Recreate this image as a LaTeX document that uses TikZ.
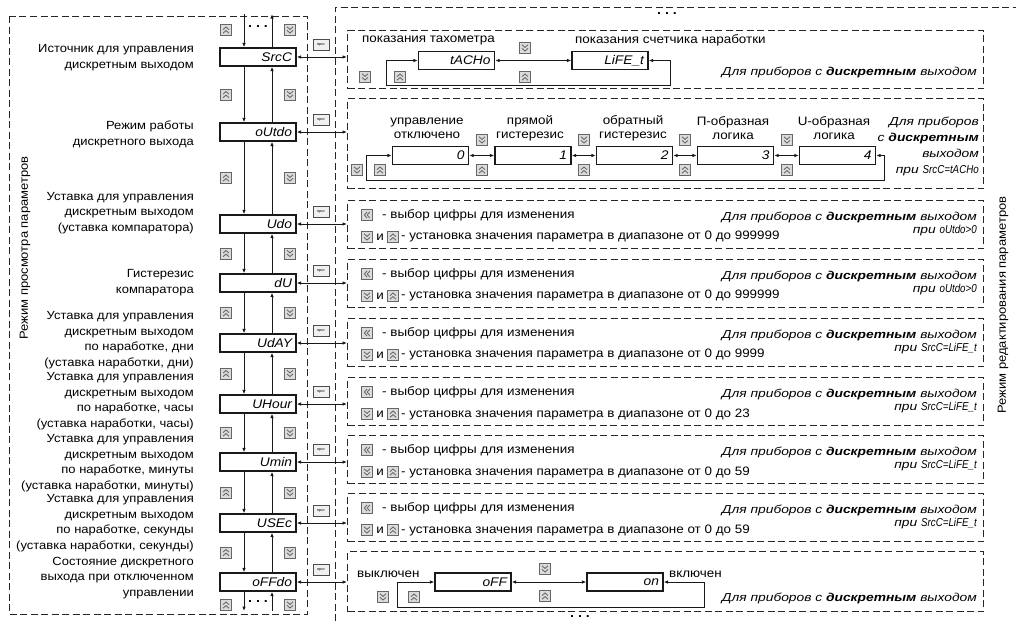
\documentclass[tikz,border=0pt]{standalone}
\usepackage{fontspec}
\setmainfont{Liberation Sans}[FakeStretch=1.1]
\newfontfamily\notefam{Liberation Sans}[FakeStretch=1.2]
\newfontfamily\segfam{Liberation Sans}[FakeStretch=0.85]
\usetikzlibrary{arrows.meta,calc}
\newcommand\labfont{\fontsize{11.8}{15.5}\selectfont}
\newcommand\txtfont{\fontsize{12.2}{14}\selectfont}
\newcommand\notefont{\notefam\itshape\fontsize{11.5}{16.3}\selectfont}
\newcommand\seg[1]{{\segfam\itshape #1}}
\newcommand\dispfont{\itshape\fontsize{12.5}{13}\selectfont}
\newcommand\progfont{\fontsize{3.6}{4}\selectfont}
\tikzset{
  dl/.style={dash pattern=on 7pt off 3.5pt, line width=1pt, draw=black!85},
  dbox/.style={dl, draw, anchor=north west, minimum width=636pt, inner sep=0pt},
  disp/.style={draw=black!90, line width=1.3pt, minimum height=18pt, text width=68pt, align=right,
    inner xsep=4pt, inner ysep=0pt, font=\dispfont},
  conn/.style={line width=0.9pt, draw=black!90, >={Latex[length=4.5pt,width=3.6pt]}},
  lab/.style={font=\labfont, align=right, anchor=east, inner sep=1pt},
  txt/.style={font=\txtfont, inner sep=1pt},
  note/.style={font=\notefont, align=right, anchor=east, inner sep=1pt},
  btn/.style={draw=black!60, fill=black!14, minimum width=11pt, minimum height=11pt, inner sep=0pt, line width=0.5pt},
  btnup/.style={btn, path picture={
    \draw[line width=0.85pt] ([shift={(-3pt,-3.2pt)}]path picture bounding box.center) -- ++(3pt,2.6pt) -- ++(3pt,-2.6pt);
    \draw[line width=0.85pt] ([shift={(-3pt,0.4pt)}]path picture bounding box.center) -- ++(3pt,2.6pt) -- ++(3pt,-2.6pt);}},
  btndn/.style={btn, path picture={
    \draw[line width=0.85pt] ([shift={(-3pt,3.2pt)}]path picture bounding box.center) -- ++(3pt,-2.6pt) -- ++(3pt,2.6pt);
    \draw[line width=0.85pt] ([shift={(-3pt,-0.4pt)}]path picture bounding box.center) -- ++(3pt,-2.6pt) -- ++(3pt,2.6pt);}},
  btnlt/.style={btn, path picture={
    \draw[line width=0.85pt] ([shift={(0pt,3pt)}]path picture bounding box.center) -- ++(-2.6pt,-3pt) -- ++(2.6pt,-3pt);
    \draw[line width=0.85pt] ([shift={(2.8pt,3pt)}]path picture bounding box.center) -- ++(-2.6pt,-3pt) -- ++(2.6pt,-3pt);}},
  prog/.style={draw=black!70, fill=black!6, minimum width=16pt, minimum height=11pt, inner sep=0pt, line width=0.6pt, font=\progfont},
  dots/.style={font=\bfseries\fontsize{13}{13}\selectfont, inner sep=0pt}
}
\newcommand\editbox[4]{%
  \node[btnlt] (sel#4) at (367,#1+15) {};
  \node[txt, anchor=west] (selt#4) at (381,#1+15) {- выбор цифры для изменения};
  \node[btndn] (dn#4) at (367,#1+37) {};
  \node[txt] (and#4) at (380,#1+37) {и};
  \node[btnup] (up#4) at (393,#1+37) {};
  \node[txt, anchor=west] (rt#4) at (400,#1+37) {- установка значения параметра в диапазоне от 0 до #2};
  \node[note] (for#4) at (978,#1+17) {Для приборов с \textbf{дискретным} выходом};
  \node[note] (cnd#4) at (978,#1+31) {при \seg{#3}};
}
\begin{document}
\begin{tikzpicture}[x=1pt,y=-1pt]
\useasboundingbox (0,0) rectangle (1016,621);
\fill[white] (0,0) rectangle (1016,621);

% frames
\draw[dl] (9,16) rectangle (307,614);
\draw[dl] (335,621) -- (335,7) -- (1016,7);
\node[font=\labfont, rotate=90] (vleft) at (25,248) {Режим просмотра параметров};
\node[font=\labfont, rotate=90] (vright) at (1003,305) {Режим редактирования параметров};
\node[dots] (dtr) at (667,14) {.\hspace{4pt}.\hspace{4pt}.};
\node[dots] (dbr) at (580,617) {.\hspace{4pt}.\hspace{4pt}.};

% left column displays
\node[disp] (SrcC)  at (258,57)  {SrcC};
\node[disp] (oUtdo) at (258,132) {oUtdo};
\node[disp] (Udo)   at (258,224) {Udo};
\node[disp] (dU)    at (258,283) {dU};
\node[disp] (UdAY)  at (258,343) {UdAY};
\node[disp] (UHour) at (258,404) {UHour};
\node[disp] (Umin)  at (258,462) {Umin};
\node[disp] (USEc)  at (258,523) {USEc};
\node[disp] (oFFdo) at (258,582) {oFFdo};

% left labels
\node[lab] (lSrcC)  at (195,57.5)  {Источник для управления\\дискретным выходом};
\node[lab] (loUtdo) at (195,134.5) {Режим работы\\дискретного выхода};
\node[lab] (lUdo)   at (195,213)   {Уставка для управления\\дискретным выходом\\(уставка компаратора)};
\node[lab] (ldU)    at (195,282.5) {Гистерезис\\компаратора};
\node[lab] (lUdAY)  at (195,340)   {Уставка для управления\\дискретным выходом\\по наработке, дни\\(уставка наработки, дни)};
\node[lab] (lUHour) at (195,401)   {Уставка для управления\\дискретным выходом\\по наработке, часы\\(уставка наработки, часы)};
\node[lab] (lUmin)  at (195,463)   {Уставка для управления\\дискретным выходом\\по наработке, минуты\\(уставка наработки, минуты)};
\node[lab] (lUSEc)  at (195,523)   {Уставка для управления\\дискретным выходом\\по наработке, секунды\\(уставка наработки, секунды)};
\node[lab] (loFFdo) at (195,578)   {Состояние дискретного\\выхода при отключенном\\управлении};

% vertical navigation
\coordinate (xl) at (244,0);
\coordinate (xr) at (272,0);
\coordinate (topL) at (244,14);
\coordinate (topR) at (272,14);
\coordinate (botL) at (244,611);
\coordinate (botR) at (272,611);
\draw[conn,->] (topL) -- (SrcC.north -| xl);
\draw[conn,->] (SrcC.north -| xr) -- (topR);
\draw[conn,->] (oFFdo.south -| xl) -- (botL);
\draw[conn,->] (botR) -- (oFFdo.south -| xr);
\node[dots] (dtl) at (258,27) {.\hspace{4pt}.\hspace{4pt}.};
\node[dots] (dbl) at (258,602) {.\hspace{4pt}.\hspace{4pt}.};
\foreach \a/\b in {SrcC/oUtdo,oUtdo/Udo,Udo/dU,dU/UdAY,UdAY/UHour,UHour/Umin,Umin/USEc,USEc/oFFdo}{
  \draw[conn,->] (\a.south -| xl) -- (\b.north -| xl);
  \draw[conn,->] (\b.north -| xr) -- (\a.south -| xr);
}
\foreach \y [count=\i] in {30,94.5,178,253.5,313,373.5,433,492.5,552.5,605}{
  \node[btnup] (bu\i) at (226,\y) {};
  \node[btndn] (bd\i) at (290,\y) {};
}

% right dashed boxes
\node[dbox, minimum height=58pt] (B1) at (347,30) {};
\node[dbox, minimum height=90pt] (B2) at (347,98) {};
\node[dbox, minimum height=48pt] (B3) at (347,200) {};
\node[dbox, minimum height=48pt] (B4) at (347,259) {};
\node[dbox, minimum height=48pt] (B5) at (347,318) {};
\node[dbox, minimum height=48pt] (B6) at (347,377) {};
\node[dbox, minimum height=48pt] (B7) at (347,435) {};
\node[dbox, minimum height=48pt] (B8) at (347,493) {};
\node[dbox, minimum height=60pt] (B9) at (347,551) {};

\foreach \d/\bx/\y [count=\i] in {SrcC/B1/57,oUtdo/B2/132,Udo/B3/224,dU/B4/283,UdAY/B5/343,UHour/B6/404,Umin/B7/462,USEc/B8/523,oFFdo/B9/582}{
  \draw[conn,<->] (\d.east) -- (\d.east -| \bx.west);
  \node[prog] (pr\i) at (321,\y-12) {прог};
}

% box 1
\node[txt, anchor=west] (t1a) at (361,40) {показания тахометра};
\node[txt, anchor=west] (t1b) at (574,40) {показания счетчика наработки};
\node[disp] (tacho) at (456.5,60.5) {tACHo};
\node[disp] (life) at (610,60.5) {LiFE\_t};
\draw[conn,<->] (tacho.east) -- (life.west);
\draw[conn,<->] (tacho.west) -- ++(-31,0) -- ++(0,24.5) -| ([xshift=22pt]life.east) -- (life.east);
\node[btndn] (b1d) at (525,48) {};
\node[btnup] (b1u) at (525,77) {};
\node[btndn] (b1l) at (365,77) {};
\node[btnup] (b1r) at (400,77) {};
\node[note] (n1) at (978,72) {Для приборов с \textbf{дискретным} выходом};

% box 2
\node[disp] (m0) at (430.5,155.5) {0};
\node[disp] (m1) at (533,155.5) {1};
\node[disp] (m2) at (634.5,155.5) {2};
\node[disp] (m3) at (735.5,155.5) {3};
\node[disp] (m4) at (837.5,155.5) {4};
\node[txt, align=center] (lm0) at (427,128.5) {управление\\отключено};
\node[txt, align=center] (lm1) at (530,128.5) {прямой\\гистерезис};
\node[txt, align=center] (lm2) at (633,128.5) {обратный\\гистерезис};
\node[txt, align=center] (lm3) at (733,128.5) {П-образная\\логика};
\node[txt, align=center] (lm4) at (834,128.5) {U-образная\\логика};
\foreach \a/\b/\x [count=\i] in {m0/m1/482,m1/m2/584,m2/m3/685,m3/m4/787}{
  \draw[conn,<->] (\a.east) -- (\b.west);
  \node[btndn] (b2d\i) at (\x,140) {};
  \node[btnup] (b2u\i) at (\x,170) {};
}
\draw[conn,<->] (m0.west) -- ++(-25,0) -- ++(0,24.5) -| ([xshift=8pt]m4.east) -- (m4.east);
\node[btndn] (b2l) at (357,170) {};
\node[btnup] (b2r) at (380,170) {};
\node[note] (n2) at (980,146.5) {Для приборов\\с \textbf{дискретным}\\выходом\\при \seg{SrcC=tACHo}};

% boxes 3-8
\editbox{200}{999999}{oUtdo>0}{3}
\editbox{259}{999999}{oUtdo>0}{4}
\editbox{318}{9999}{SrcC=LiFE\_t}{5}
\editbox{377}{23}{SrcC=LiFE\_t}{6}
\editbox{435}{59}{SrcC=LiFE\_t}{7}
\editbox{493}{59}{SrcC=LiFE\_t}{8}

% box 9
\node[txt, anchor=west] (t9a) at (356,574) {выключен};
\node[disp] (off) at (473,582) {oFF};
\node[disp] (on) at (625,582) {on};
\node[txt, anchor=west] (t9b) at (668,574) {включен};
\draw[conn,<->] (off.east) -- (on.west);
\draw[conn,<->] (off.west) -- ++(-37,0) -- ++(0,25) -| ([xshift=41pt]on.east) -- (on.east);
\node[btndn] (b9d) at (545,569) {};
\node[btnup] (b9u) at (545,596) {};
\node[btndn] (b9l) at (383,597) {};
\node[btnup] (b9r) at (414,597) {};
\node[note] (n9) at (978,598) {Для приборов с \textbf{дискретным} выходом};
\end{tikzpicture}
\end{document}
